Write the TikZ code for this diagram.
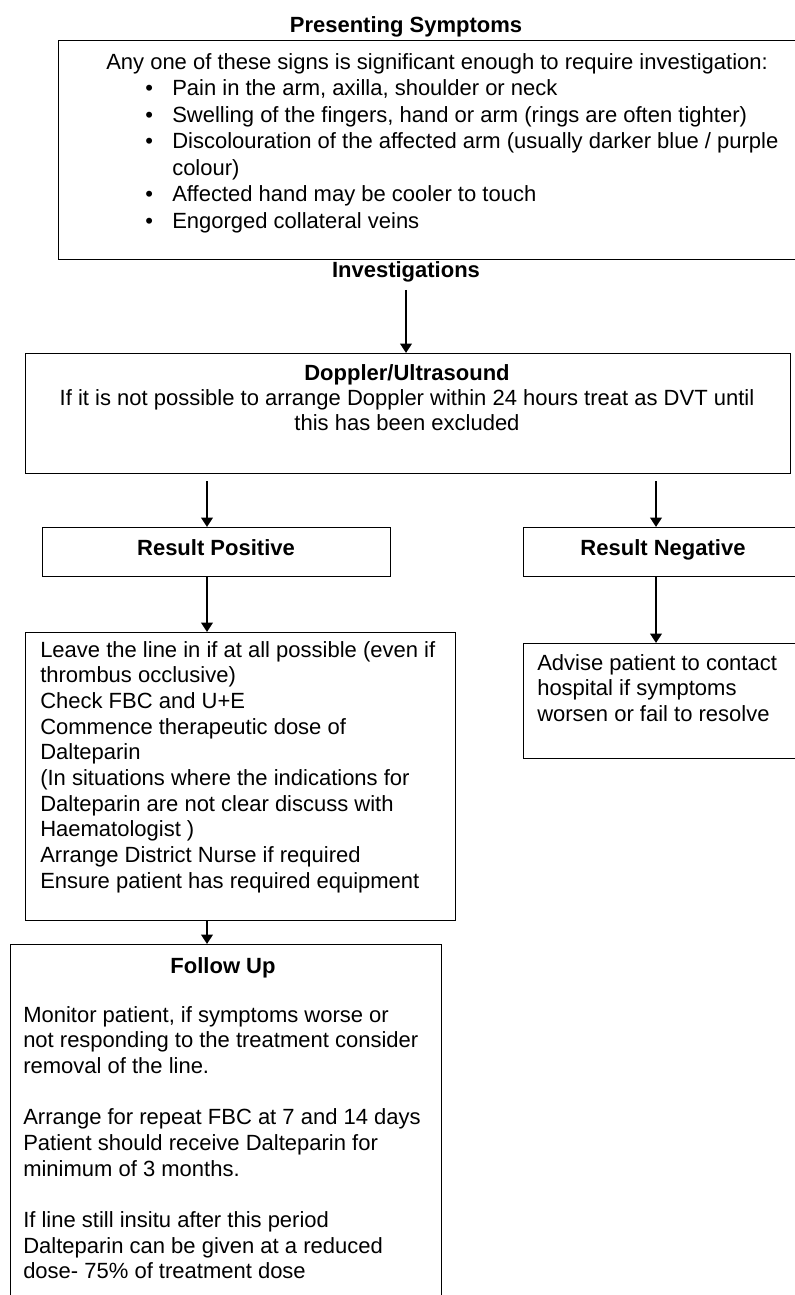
\documentclass[tikz,border=0pt]{standalone}
\usepackage{fontspec}
\setmainfont{Liberation Sans}
\usetikzlibrary{arrows.meta}

\newcommand{\sympitem}{\hspace*{29.25pt}\makebox[20.25pt][l]{\textbullet}}

\begin{document}
\begin{tikzpicture}[x=0.75pt, y=-0.75pt,
    box/.style={draw, line width=1.1pt, anchor=north west, inner sep=0pt},
    txt/.style={anchor=north west, inner sep=0pt, align=left, font=\fontsize{16.5pt}{19.25pt}\selectfont},
    head/.style={anchor=base, inner sep=0pt, font=\fontsize{16.5pt}{19.5pt}\selectfont\bfseries},
    arr/.style={-{Triangle[length=7pt,width=8.5pt]}, line width=2.2pt}]
  \useasboundingbox (0,0) rectangle (795,1295);

  % Presenting symptoms
  \node[head] (symphead) at (406,33) {Presenting Symptoms};
  \node[box, minimum width=571.5pt, minimum height=164.25pt] (symp) at (58,40) {};
  \node[txt, font=\fontsize{16.5pt}{19.9pt}\selectfont] (symptxt) at (106,53) {Any one of these signs is significant enough to require investigation:\\
    \sympitem Pain in the arm, axilla, shoulder or neck\\
    \sympitem Swelling of the fingers, hand or arm (rings are often tighter)\\
    \sympitem Discolouration of the affected arm (usually darker blue / purple\\
    \hspace*{49.5pt}colour)\\
    \sympitem Affected hand may be cooler to touch\\
    \sympitem Engorged collateral veins};
  \node[head] (invhead) at (406,277) {Investigations};

  % Doppler
  \node[box, minimum width=573.75pt, minimum height=90pt] (dop) at (25,353) {};
  \node[head] (dophead) at (407,380) {Doppler/Ultrasound};
  \node[txt, anchor=north, align=center] (doptxt) at (407,389) {If it is not possible to arrange Doppler within 24 hours treat as DVT until\\this has been excluded};

  % Results
  \node[box, minimum width=261pt, minimum height=36.75pt] (pos) at (42,527) {};
  \node[head] (poshead) at (216,555) {Result Positive};
  \node[box, minimum width=210pt, minimum height=36.75pt] (neg) at (523,527) {};
  \node[head] (neghead) at (663,555) {Result Negative};

  % Actions
  \node[box, minimum width=322.5pt, minimum height=216pt] (posact) at (25,632) {};
  \node[txt] (posacttxt) at (40,641) {Leave the line in if at all possible (even if\\
    thrombus occlusive)\\
    Check FBC and U+E\\
    Commence therapeutic dose of\\
    Dalteparin\\
    (In situations where the indications for\\
    Dalteparin are not clear discuss with\\
    Haematologist )\\
    Arrange District Nurse if required\\
    Ensure patient has required equipment};
  \node[box, minimum width=222.75pt, minimum height=86.25pt] (negact) at (523,643) {};
  \node[txt] (negacttxt) at (537,654) {Advise patient to contact\\
    hospital if symptoms\\
    worsen or fail to resolve};

  % Follow up
  \node[box, minimum width=323.25pt, minimum height=282pt] (follow) at (10,944) {};
  \node[head] (followhead) at (223,973) {Follow Up};
  \node[txt] (followtxt) at (23,1006) {Monitor patient, if symptoms worse or\\
    not responding to the treatment consider\\
    removal of the line.\\[19.25pt]
    Arrange for repeat FBC at 7 and 14 days\\
    Patient should receive Dalteparin for\\
    minimum of 3 months.\\[19.25pt]
    If line still insitu after this period\\
    Dalteparin can be given at a reduced\\
    dose- 75\% of treatment dose};

  % Arrows
  \coordinate (lcol) at (207,0);
  \coordinate (rcol) at (656,0);
  \draw[arr, shorten <=6pt] (invhead) -- (invhead |- dop.north);
  \draw[arr, shorten <=5pt] (lcol |- dop.south) -- (lcol |- pos.north);
  \draw[arr, shorten <=5pt] (rcol |- dop.south) -- (rcol |- neg.north);
  \draw[arr] (lcol |- pos.south) -- (lcol |- posact.north);
  \draw[arr] (rcol |- neg.south) -- (rcol |- negact.north);
  \draw[arr] (lcol |- posact.south) -- (lcol |- follow.north);
\end{tikzpicture}
\end{document}
